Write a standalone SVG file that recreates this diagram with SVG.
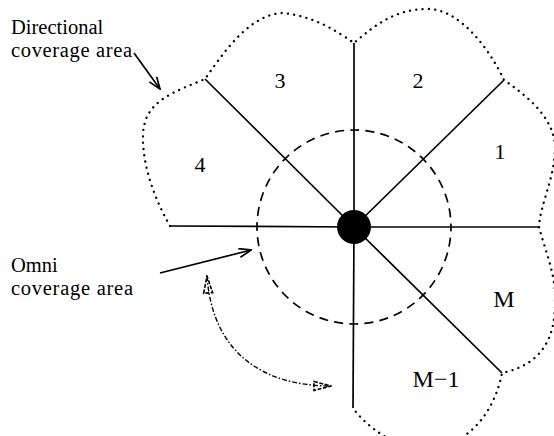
<svg xmlns="http://www.w3.org/2000/svg" width="554" height="436" viewBox="0 0 554 436">
<style>
.txt{font-family:"Liberation Serif","Times New Roman",serif;fill:#000}
.ann{font-size:20.5px}
.lbl{font-size:22px;text-anchor:middle}
.lblm{font-size:24px;text-anchor:middle}
.solid{stroke:#000;stroke-width:1.7;fill:none}
.dotted{stroke:#000;stroke-width:2.3;fill:none;stroke-dasharray:0.1 6.2;stroke-linecap:round}
.dashed{stroke:#000;stroke-width:1.7;fill:none;stroke-dasharray:9 6.237;stroke-dashoffset:4.5}
.dashdot{stroke:#000;stroke-width:1.4;fill:none;stroke-dasharray:5 2 1.5 2}
</style>
<defs>
<marker id="vee" markerUnits="userSpaceOnUse" viewBox="0 0 14 10" markerWidth="14" markerHeight="10" refX="13" refY="5" orient="auto">
<path d="M1,0.5 L13,5 L1,9.5" fill="none" stroke="#000" stroke-width="1.7"/>
</marker>
<marker id="tri" markerUnits="userSpaceOnUse" viewBox="0 0 20 12" markerWidth="20" markerHeight="12" refX="19" refY="6" orient="auto-start-reverse">
<path d="M2,1.5 L19,6 L2,10.5 Z" fill="none" stroke="#000" stroke-width="1.6" stroke-dasharray="4 1.5"/>
</marker>
</defs>

<g id="coverage">
<path id="directional-boundary" class="dotted" d="M170,226 C155,200 142,165 143,135 C144,100 175,92 205,79 C222,55 248,15 282,13 C315,16 338,32 354,43 C375,25 395,9 428,9 C460,9 490,50 504,80 C530,98 556,120 555,150 C554,180 540,205 539,227 C545,250 556,275 555,300 C556,340 540,365 502,373 C495,410 470,445 430,448 C395,450 365,425 353,408"/>
<circle id="omni-boundary" class="dashed" cx="354" cy="227" r="97"/>
</g>

<g id="sectors">
<line class="solid" x1="354" y1="227" x2="539" y2="227"/>
<line class="solid" x1="354" y1="227" x2="170" y2="226"/>
<line class="solid" x1="354" y1="227" x2="354" y2="43"/>
<line class="solid" x1="354" y1="227" x2="353" y2="408"/>
<line class="solid" x1="354" y1="227" x2="205" y2="79"/>
<line class="solid" x1="354" y1="227" x2="504" y2="80"/>
<line class="solid" x1="354" y1="227" x2="502" y2="373"/>
</g>

<g id="node-center"><circle cx="354" cy="227" r="17" fill="#000"/></g>

<g id="labels">
<text class="txt lbl" x="280" y="88">3</text>
<text class="txt lbl" x="418" y="88">2</text>
<text class="txt lbl" x="500" y="159">1</text>
<text class="txt lbl" x="200" y="172">4</text>
<text class="txt lblm" x="504" y="307">M</text>
<text class="txt lblm" x="436" y="387">M−1</text>
</g>

<g id="annotation-directional">
<text class="txt ann" x="11" y="34">Directional</text>
<text class="txt ann" x="11" y="57" textLength="121" lengthAdjust="spacing">coverage area</text>
</g>
<g id="annotation-omni">
<text class="txt ann" x="11" y="272">Omni</text>
<text class="txt ann" x="11" y="295" textLength="122" lengthAdjust="spacing">coverage area</text>
</g>

<g id="connectors">
<line class="solid" x1="134" y1="53" x2="160" y2="89" marker-end="url(#vee)"/>
<line class="solid" x1="160" y1="273" x2="251" y2="250" marker-end="url(#vee)"/>
<path class="dashdot" d="M207,276 C212,350 260,386 331,386" marker-start="url(#tri)" marker-end="url(#tri)"/>
</g>
</svg>
